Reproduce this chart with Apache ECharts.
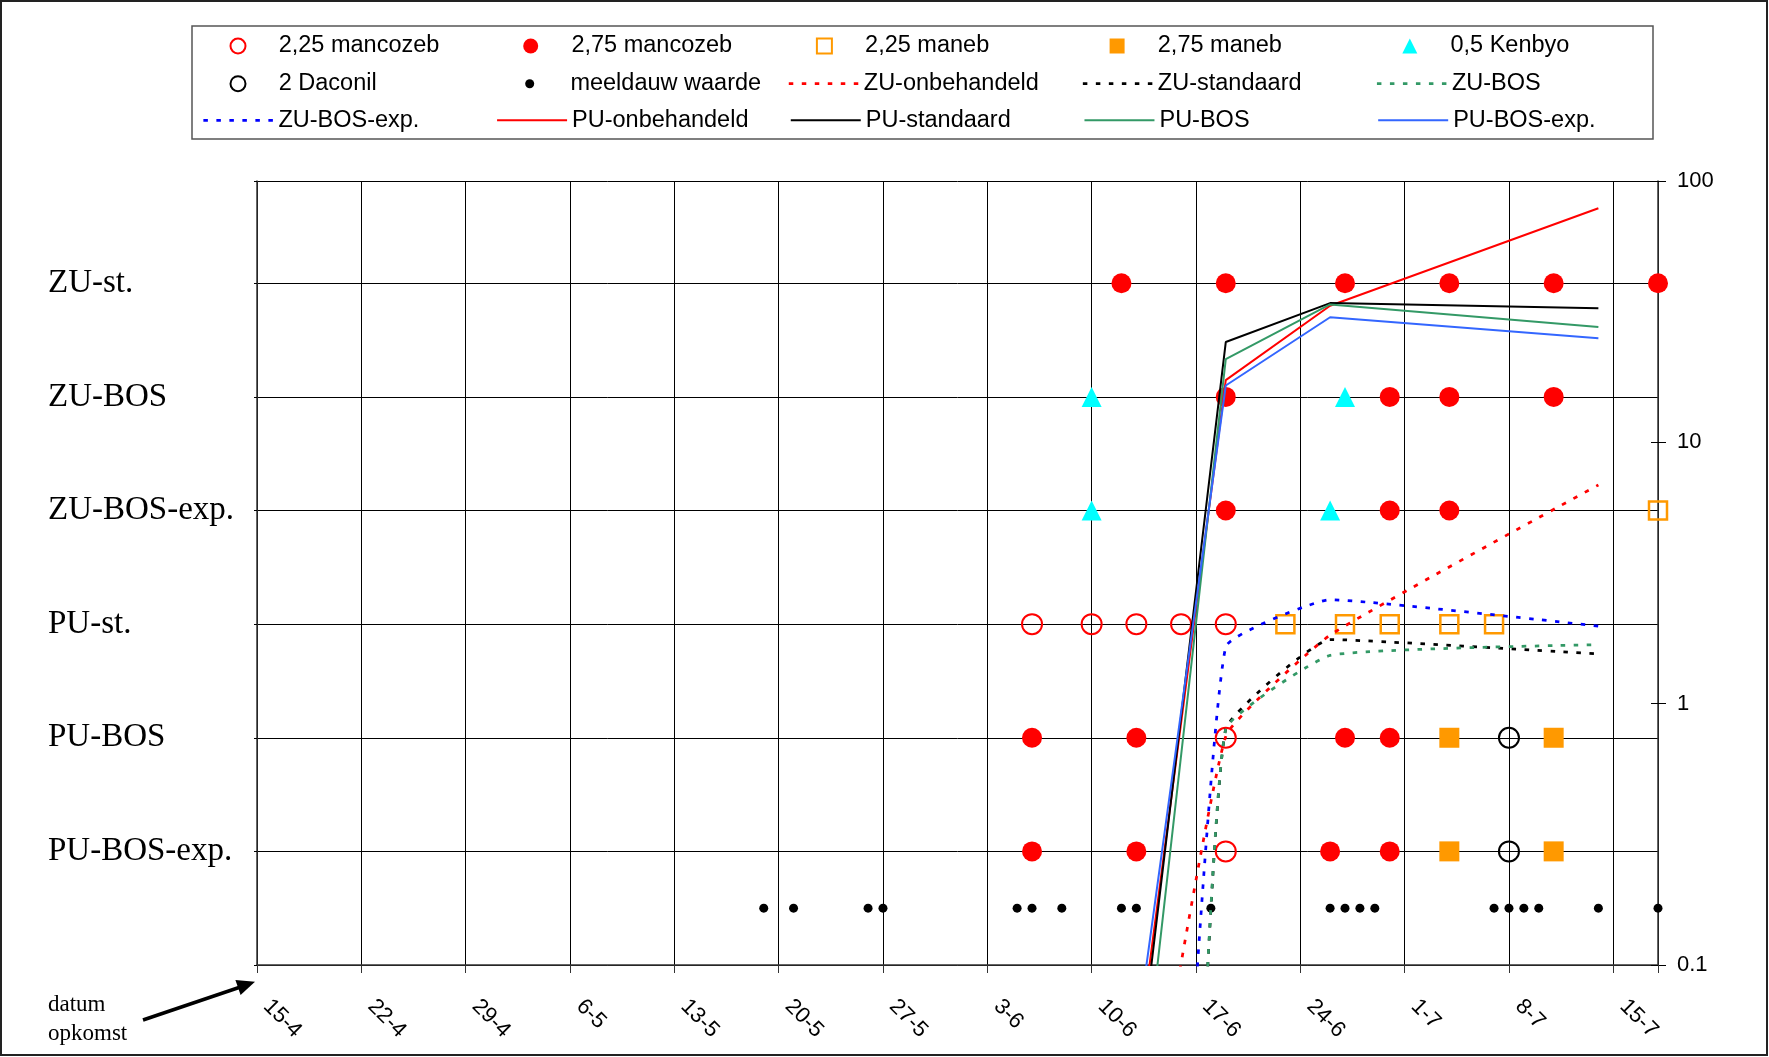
<!DOCTYPE html>
<html>
<head>
  <meta charset="utf-8">
  <title>Meeldauw spuitschema</title>
  <script src="https://cdn.jsdelivr.net/npm/echarts@6.0.0/dist/echarts.min.js"></script>
</head>
<body style="margin: 0; background: #fff">
  <div id="main" style="width: 1769px; height: 1057px"></div>
  <script type="text/javascript">
    // x axis: weeks from 15-4, one tick per week
    var tickLabels = ['15-4', '22-4', '29-4', '6-5', '13-5', '20-5', '27-5', '3-6', '10-6', '17-6', '24-6', '1-7', '8-7', '15-7'];
    // left axis rows (1 = bottom row)
    var rowLabels = ['', 'PU-BOS-exp.', 'PU-BOS', 'PU-st.', 'ZU-BOS-exp.', 'ZU-BOS', 'ZU-st.'];

    // spray dates per row: [date, row]
    var mancozeb225 = [['6-6', 3], ['10-6', 3], ['13-6', 3], ['16-6', 3], ['19-6', 3], ['19-6', 2], ['19-6', 1]];
    var mancozeb275 = [
      ['12-6', 6], ['19-6', 6], ['27-6', 6], ['4-7', 6], ['11-7', 6], ['18-7', 6],
      ['19-6', 5], ['30-6', 5], ['4-7', 5], ['11-7', 5],
      ['19-6', 4], ['30-6', 4], ['4-7', 4],
      ['6-6', 2], ['13-6', 2], ['27-6', 2], ['30-6', 2],
      ['6-6', 1], ['13-6', 1], ['26-6', 1], ['30-6', 1]
    ];
    var maneb225 = [['23-6', 3], ['27-6', 3], ['30-6', 3], ['4-7', 3], ['7-7', 3], ['18-7', 4]];
    var maneb275 = [['4-7', 2], ['11-7', 2], ['4-7', 1], ['11-7', 1]];
    var kenbyo = [['10-6', 5], ['27-6', 5], ['10-6', 4], ['26-6', 4]];
    var daconil = [['8-7', 2], ['8-7', 1]];
    var meeldauwRow = 0.5;
    var meeldauwDates = ['19-5', '21-5', '26-5', '27-5', '5-6', '6-6', '8-6', '12-6', '13-6', '18-6',
      '26-6', '27-6', '28-6', '29-6', '7-7', '8-7', '9-7', '10-7', '14-7', '18-7'];

    // mildew (%, log axis): [date, value]
    var zuOnbehandeld = [['13-6', 0.01], ['19-6', 0.75], ['26-6', 1.83], ['14-7', 6.87]];
    var zuStandaard = [['17-6', 0.01], ['19-6', 0.8], ['26-6', 1.76], ['14-7', 1.55]];
    var zuBos = [['17-6', 0.01], ['19-6', 0.8], ['26-6', 1.53], ['14-7', 1.68]];
    var zuBosExp = [['16-6', 0.01], ['19-6', 1.65], ['26-6', 2.5], ['14-7', 1.98]];
    var puOnbehandeld = [['12-6', 0.015], ['19-6', 17.3], ['26-6', 33.3], ['14-7', 78.7]];
    var puStandaard = [['12-6', 0.011], ['19-6', 24.2], ['26-6', 34.1], ['14-7', 32.6]];
    var puBos = [['12-6', 0.006], ['19-6', 20.8], ['26-6', 33.7], ['14-7', 27.6]];
    var puBosExp = [['12-6', 0.02], ['19-6', 16.5], ['26-6', 30.1], ['14-7', 25.0]];

    var sans = "'Liberation Sans', Arial, sans-serif";
    var serif = "'Liberation Serif', 'Times New Roman', serif";

    // days since 15-4
    function day(s) {
      var p = s.split('-');
      return (Date.UTC(2000, +p[1] - 1, +p[0]) - Date.UTC(2000, 3, 15)) / 86400000;
    }
    function pts(arr) {
      return arr.map(function (d) { return [day(d[0]), d[1]]; });
    }

    var hollow = 'rgba(0,0,0,0)';
    function markers(name, data, symbol, size, fill, stroke, bw) {
      return {
        name: name, type: 'scatter', xAxisIndex: 0, yAxisIndex: 0,
        data: data, symbol: symbol, symbolSize: size, z: 3,
        itemStyle: { color: fill, borderColor: stroke, borderWidth: bw, opacity: 1 }
      };
    }
    function curve(name, data, color, dotted) {
      return {
        name: name, type: 'line', xAxisIndex: 0, yAxisIndex: 1,
        data: pts(data), symbol: 'none', smooth: dotted ? 0.12 : false, clip: true, z: 5,
        itemStyle: { color: color },
        lineStyle: dotted ? { color: color, width: 2.75, type: [4.5, 8.5] } : { color: color, width: 2 }
      };
    }

    // legend: 5 columns, 292.7 px apart; text of column 1 starts at x = 277.7
    var col = 292.7;
    var fontLegend = 23.5;
    function textStyle(w, pad) {
      return { fontFamily: sans, fontSize: fontLegend, color: '#000', width: w, lineHeight: 24, overflow: 'none', padding: [0, 0, 0, pad] };
    }
    // marker entries: icon box = symbol size, text pushed right by padding
    function markerLegend(names, left, top, size) {
      var pad = 277.7 - (237 + size / 2) - 5;
      return {
        data: names, left: left + 237 - 202 - size / 2, top: top, padding: 0, orient: 'horizontal',
        itemWidth: size, itemHeight: size, itemGap: 15.5, selectedMode: false,
        textStyle: textStyle(col - size - 5 - pad - 15.5, pad)
      };
    }
    // line entries: 70 px line sample, no symbol on it
    function lineLegend(names, left, top) {
      return {
        data: names.map(function (n) { return { name: n, itemStyle: { opacity: 0 } }; }),
        left: left, top: top, padding: 0, orient: 'horizontal',
        itemWidth: 70, itemHeight: 15, itemGap: 15.7, selectedMode: false,
        lineStyle: { width: 'inherit' },
        textStyle: textStyle(col - 70 - 5 - 15.7, 0)
      };
    }
    var squareIcon = 'path://M0,0L10,0L10,10L0,10Z';
    var triangleIcon = 'path://M5,0L10,10L0,10Z';

    var option = {
      animation: false,
      backgroundColor: '#fff',
      legend: [
        markerLegend(['2,25 mancozeb', '2,75 mancozeb',
          { name: '2,25 maneb', icon: squareIcon }, { name: '2,75 maneb', icon: squareIcon },
          { name: '0,5 Kenbyo', icon: triangleIcon }], 202, 34, 15),
        markerLegend(['2 Daconil'], 202, 71.7, 15),
        markerLegend(['meeldauw waarde'], 202 + col, 71.7, 9),
        lineLegend(['ZU-onbehandeld', 'ZU-standaard', 'ZU-BOS'], 202 + 2 * col, 71.7),
        lineLegend(['ZU-BOS-exp.', 'PU-onbehandeld', 'PU-standaard', 'PU-BOS', 'PU-BOS-exp.'], 202, 108.3)
      ],
      grid: { left: 257, right: 111, top: 181, bottom: 92, containLabel: false, outerBoundsMode: 'none' },
      xAxis: {
        type: 'value', min: 0, max: 94, interval: 7,
        axisLine: { show: true, lineStyle: { color: '#333', width: 1.5 } },
        axisTick: { show: true, length: 8, lineStyle: { color: '#333' } },
        splitLine: { show: true, lineStyle: { color: '#000', width: 1 } },
        axisLabel: {
          rotate: -45, margin: 28, padding: [0, 0, 0, 14], color: '#000', fontFamily: sans, fontSize: 22,
          formatter: function (v) { return v % 7 === 0 ? (tickLabels[v / 7] || '') : ''; }
        }
      },
      yAxis: [
        {
          type: 'value', position: 'left', min: 0, max: 6.9, interval: 1,
          axisLine: { show: true, lineStyle: { color: '#333', width: 1.5 } },
          axisTick: { show: true, length: 3, lineStyle: { color: '#000' } },
          splitLine: { show: true, lineStyle: { color: '#000', width: 1 } },
          axisLabel: {
            align: 'left', margin: 209, color: '#000', fontFamily: serif, fontSize: 33,
            formatter: function (v) {
              var r = Math.round(v);
              return Math.abs(v - r) < 1e-6 ? (rowLabels[r] || '') : '';
            }
          }
        },
        {
          type: 'log', logBase: 10, position: 'right', min: 0.1, max: 100,
          axisLine: { show: true, lineStyle: { color: '#333', width: 1.5 } },
          axisTick: { show: true, length: 8, lineStyle: { color: '#000' } },
          splitLine: { show: false },
          axisLabel: { margin: 19, color: '#000', fontFamily: sans, fontSize: 22 }
        },
        {
          // inner half of the crossing ticks on the right axis
          type: 'log', logBase: 10, position: 'right', min: 0.1, max: 100,
          axisLine: { show: false },
          axisTick: { show: true, inside: true, length: 7, lineStyle: { color: '#000' } },
          splitLine: { show: false },
          axisLabel: { show: false }
        }
      ],
      series: [
        markers('2,25 mancozeb', pts(mancozeb225), 'circle', 20, hollow, '#ff0000', 2),
        markers('2,75 mancozeb', pts(mancozeb275), 'circle', 20, '#ff0000', '#ff0000', 0),
        markers('2,25 maneb', pts(maneb225), 'rect', 18, hollow, '#ff9900', 2.5),
        markers('2,75 maneb', pts(maneb275), 'rect', 20, '#ff9900', '#ff9900', 0),
        markers('0,5 Kenbyo', pts(kenbyo), 'triangle', 20, '#00ffff', '#00ffff', 0),
        markers('2 Daconil', pts(daconil), 'circle', 20, hollow, '#000000', 2),
        markers('meeldauw waarde', meeldauwDates.map(function (d) { return [day(d), meeldauwRow]; }), 'circle', 9, '#000000', '#000000', 0),
        curve('ZU-onbehandeld', zuOnbehandeld, '#ff0000', true),
        curve('ZU-standaard', zuStandaard, '#000000', true),
        curve('ZU-BOS', zuBos, '#339966', true),
        curve('ZU-BOS-exp.', zuBosExp, '#0000ff', true),
        curve('PU-onbehandeld', puOnbehandeld, '#ff0000', false),
        curve('PU-standaard', puStandaard, '#000000', false),
        curve('PU-BOS', puBos, '#339966', false),
        curve('PU-BOS-exp.', puBosExp, '#3366ff', false)
      ],
      graphic: [
        { type: 'rect', shape: { x: 1, y: 1, width: 1766, height: 1054 }, style: { fill: 'none', stroke: '#222', lineWidth: 2 }, silent: true, z: 100 },
        { type: 'rect', shape: { x: 192, y: 26, width: 1461, height: 113 }, style: { fill: 'none', stroke: '#555', lineWidth: 1.5 }, silent: true, z: 100 },
        { type: 'text', x: 48, y: 990, style: { text: 'datum\nopkomst', font: '23px ' + serif, lineHeight: 29, fill: '#000' }, silent: true },
        { type: 'line', shape: { x1: 143, y1: 1020, x2: 239, y2: 987.5 }, style: { stroke: '#000', lineWidth: 3.5 }, silent: true },
        { type: 'polygon', shape: { points: [[255, 981.7], [240.6, 995.1], [235.4, 979.9]] }, style: { fill: '#000' }, silent: true }
      ]
    };

    var chart = echarts.init(document.getElementById('main'));
    chart.setOption(option);
  </script>
</body>
</html>
